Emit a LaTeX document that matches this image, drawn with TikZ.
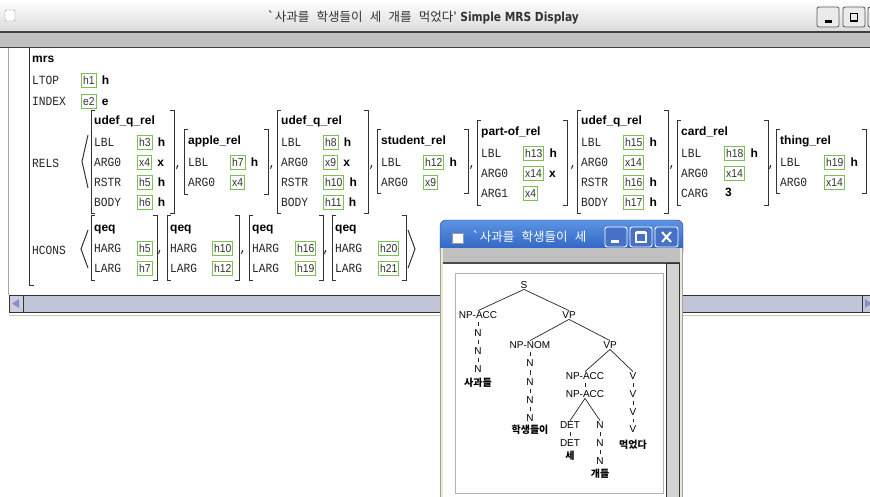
\documentclass[tikz,border=0pt]{standalone}
\usepackage{fontspec}
\setmainfont{Liberation Sans}
\newfontfamily\attrfont[FakeStretch=0.9]{Liberation Mono}
\newfontfamily\valfont[FakeStretch=0.9]{Liberation Sans}
\newfontfamily\korfont{Noto Sans CJK KR}
\newfontfamily\kortitle[WordSpace=2.6]{Noto Sans CJK KR}
\newfontfamily\titlefont[FakeStretch=0.85]{DejaVu Sans}
\usetikzlibrary{positioning}
\definecolor{boxgreen}{HTML}{7CC050}
\definecolor{barblue}{HTML}{C4C4D8}
\definecolor{xpblue}{HTML}{2558BC}
\definecolor{xplight}{HTML}{5C94E2}
\definecolor{xpframe}{HTML}{ECE9D8}
\definecolor{bandgray}{HTML}{C0C0C0}
\newcommand\avmbox[4]{%
  \draw[brk] (#1+4,#3) -- (#1,#3) -- (#1,#4) -- (#1+4,#4);
  \draw[brk] (#2-4,#3) -- (#2,#3) -- (#2,#4) -- (#2-4,#4);}
\tikzset{
  attr/.style={anchor=west, inner sep=0pt, text height=8pt, text depth=0pt,
    font=\attrfont\fontsize{12.5}{12.5}\selectfont, text=black!85},
  tname/.style={anchor=west, inner sep=0pt, text height=9pt, text depth=0pt,
    font=\bfseries\fontsize{12}{12}\selectfont},
  val/.style={anchor=west, draw=boxgreen, line width=1pt, fill=white,
    inner xsep=1.6pt, inner ysep=2.75pt, text height=8.5pt, text depth=0pt,
    font=\valfont\fontsize{11.5}{11.5}\selectfont, text=black!80},
  srt/.style={inner sep=0pt, text height=8.5pt, text depth=0pt,
    font=\bfseries\fontsize{12}{12}\selectfont},
  cma/.style={inner sep=0pt, font=\attrfont\fontsize{12}{12}\selectfont},
  brk/.style={draw=black!80, line width=1pt},
  btn/.style={draw=black!65, fill=black!8, rounded corners=2pt, line width=0.8pt},
  xbtn/.style={draw=white, fill=xpblue!85!white, rounded corners=2.5pt, line width=0.9pt},
  tlab/.style={inner sep=0.6pt, text height=7.2pt, text depth=0pt,
    font=\fontsize{10}{10}\selectfont},
  tword/.style={inner sep=0pt, font=\korfont\bfseries\fontsize{10}{10}\selectfont},
  tedge/.style={black!85, line width=0.7pt},
  uedge/.style={black!85, line width=0.8pt, shorten <=3pt, shorten >=3pt}
}
\begin{document}
\begin{tikzpicture}[x=1pt,y=-1pt]
\useasboundingbox (0,0) rectangle (870,496);
\fill[white] (0,0) rectangle (870,496);
% main window
\shade[top color=white, bottom color=black!14] (0,0) rectangle (870,31);
\draw[black!45, fill=white, rounded corners=1pt] (5,10) rectangle (15,21);
\node[inner sep=0pt, text=black!80, font=\fontsize{12.5}{12.5}\selectfont] (title) at (423,17)
  {{\kortitle\char"60 사과를 학생들이 세 개를 먹었다'} {\titlefont\bfseries Simple MRS Display}};
\draw[btn] (817,7) rectangle (839,27);
\draw[btn] (843,7) rectangle (865,27);
\draw[btn] (868,7) rectangle (892,27);
\fill[black] (825,19.5) rectangle (832,22.5);
\draw[black, line width=1.2pt] (850.5,13.5) rectangle (857.5,21);
\fill[black!75] (0,31) rectangle (870,32.5);
\fill[bandgray] (0,32.5) rectangle (870,46.5);
\fill[black!75] (0,46.5) rectangle (870,48);
\draw[black!35] (8.5,48) -- (8.5,295);
\draw[brk] (29,48) -- (29,285) -- (34,285);
\node[tname] (mrs) at (32,58) {mrs};
\node[attr] (ltop) at (32,80) {LTOP};
\node[val] (h1) at (81,80) {h1};
\node[srt, right=5pt of h1] (h1s) {h};
\node[attr] (index) at (32,101) {INDEX};
\node[val] (e2) at (81,101) {e2};
\node[srt, right=5pt of e2] (e2s) {e};
\node[attr] (rels) at (32,163) {RELS};
\draw[brk] (88,135) -- (82,161.5) -- (88,188);
\avmbox{91}{174}{110}{213}
\node[tname] (r1t) at (94,120) {udef\_q\_rel};
\node[attr] (r1a) at (94,142) {LBL};
\node[val] (r1av) at (137,142) {h3};
\node[srt, right=5pt of r1av] (r1as) {h};
\node[attr] (r1b) at (94,162) {ARG0};
\node[val] (r1bv) at (137,162) {x4};
\node[srt, right=5pt of r1bv] (r1bs) {x};
\node[attr] (r1c) at (94,182) {RSTR};
\node[val] (r1cv) at (137,182) {h5};
\node[srt, right=5pt of r1cv] (r1cs) {h};
\node[attr] (r1d) at (94,202) {BODY};
\node[val] (r1dv) at (137,202) {h6};
\node[srt, right=5pt of r1dv] (r1ds) {h};
\node[cma] (c1) at (178,168) {,};
\avmbox{184}{268}{129}{194}
\node[tname] (r2t) at (188,140) {apple\_rel};
\node[attr] (r2a) at (188,162) {LBL};
\node[val] (r2av) at (230,162) {h7};
\node[srt, right=5pt of r2av] (r2as) {h};
\node[attr] (r2b) at (188,182) {ARG0};
\node[val] (r2bv) at (230,182) {x4};
\node[cma] (c2) at (272,168) {,};
\avmbox{277}{368}{110}{213}
\node[tname] (r3t) at (281,120) {udef\_q\_rel};
\node[attr] (r3a) at (281,142) {LBL};
\node[val] (r3av) at (323,142) {h8};
\node[srt, right=5pt of r3av] (r3as) {h};
\node[attr] (r3b) at (281,162) {ARG0};
\node[val] (r3bv) at (323,162) {x9};
\node[srt, right=5pt of r3bv] (r3bs) {x};
\node[attr] (r3c) at (281,182) {RSTR};
\node[val] (r3cv) at (323,182) {h10};
\node[srt, right=5pt of r3cv] (r3cs) {h};
\node[attr] (r3d) at (281,202) {BODY};
\node[val] (r3dv) at (323,202) {h11};
\node[srt, right=5pt of r3dv] (r3ds) {h};
\node[cma] (c3) at (372,168) {,};
\avmbox{377}{468}{129}{193}
\node[tname] (r4t) at (381,140) {student\_rel};
\node[attr] (r4a) at (381,162) {LBL};
\node[val] (r4av) at (423,162) {h12};
\node[srt, right=5pt of r4av] (r4as) {h};
\node[attr] (r4b) at (381,182) {ARG0};
\node[val] (r4bv) at (423,182) {x9};
\node[cma] (c4) at (472,168) {,};
\avmbox{477}{567}{120}{205}
\node[tname] (r5t) at (481,131) {part-of\_rel};
\node[attr] (r5a) at (481,153) {LBL};
\node[val] (r5av) at (523,153) {h13};
\node[srt, right=5pt of r5av] (r5as) {h};
\node[attr] (r5b) at (481,173) {ARG0};
\node[val] (r5bv) at (523,173) {x14};
\node[srt, right=5pt of r5bv] (r5bs) {x};
\node[attr] (r5c) at (481,193) {ARG1};
\node[val] (r5cv) at (523,193) {x4};
\node[cma] (c5) at (573,168) {,};
\avmbox{577}{668}{110}{213}
\node[tname] (r6t) at (581,120) {udef\_q\_rel};
\node[attr] (r6a) at (581,142) {LBL};
\node[val] (r6av) at (623,142) {h15};
\node[srt, right=5pt of r6av] (r6as) {h};
\node[attr] (r6b) at (581,162) {ARG0};
\node[val] (r6bv) at (623,162) {x14};
\node[attr] (r6c) at (581,182) {RSTR};
\node[val] (r6cv) at (623,182) {h16};
\node[srt, right=5pt of r6cv] (r6cs) {h};
\node[attr] (r6d) at (581,202) {BODY};
\node[val] (r6dv) at (623,202) {h17};
\node[srt, right=5pt of r6dv] (r6ds) {h};
\node[cma] (c6) at (672,168) {,};
\avmbox{677}{768}{120}{205}
\node[tname] (r7t) at (681,131) {card\_rel};
\node[attr] (r7a) at (681,153) {LBL};
\node[val] (r7av) at (724,153) {h18};
\node[srt, right=5pt of r7av] (r7as) {h};
\node[attr] (r7b) at (681,173) {ARG0};
\node[val] (r7bv) at (724,173) {x14};
\node[attr] (r7c) at (681,193) {CARG};
\node[srt, anchor=west] (r7cv) at (725,192) {3};
\node[cma] (c7) at (771,168) {,};
\avmbox{776}{866}{129}{193}
\node[tname] (r8t) at (780,140) {thing\_rel};
\node[attr] (r8a) at (780,162) {LBL};
\node[val] (r8av) at (824,162) {h19};
\node[srt, right=5pt of r8av] (r8as) {h};
\node[attr] (r8b) at (780,182) {ARG0};
\node[val] (r8bv) at (824,182) {x14};
\node[attr] (hcons) at (32,250) {HCONS};
\draw[brk] (88,230) -- (81,249) -- (88,268);
\avmbox{91}{157}{215}{280}
\node[tname] (q1t) at (94,227) {qeq};
\node[attr] (q1a) at (94,248) {HARG};
\node[val] (q1av) at (137,248) {h5};
\node[attr] (q1b) at (94,268) {LARG};
\node[val] (q1bv) at (137,268) {h7};
\node[cma] (c8) at (160,253) {,};
\avmbox{167}{239}{215}{280}
\node[tname] (q2t) at (170,227) {qeq};
\node[attr] (q2a) at (170,248) {HARG};
\node[val] (q2av) at (212,248) {h10};
\node[attr] (q2b) at (170,268) {LARG};
\node[val] (q2bv) at (212,268) {h12};
\node[cma] (c9) at (243,253) {,};
\avmbox{249}{323}{215}{280}
\node[tname] (q3t) at (252,227) {qeq};
\node[attr] (q3a) at (252,248) {HARG};
\node[val] (q3av) at (295,248) {h16};
\node[attr] (q3b) at (252,268) {LARG};
\node[val] (q3bv) at (295,268) {h19};
\node[cma] (c10) at (326,253) {,};
\avmbox{332}{406}{215}{280}
\node[tname] (q4t) at (335,227) {qeq};
\node[attr] (q4a) at (335,248) {HARG};
\node[val] (q4av) at (378,248) {h20};
\node[attr] (q4b) at (335,268) {LARG};
\node[val] (q4bv) at (378,268) {h21};
\draw[brk] (408,230) -- (415,249) -- (408,268);
% scroll bar
\draw[black!80, fill=barblue] (9,295) rectangle (875,312);
\draw[black!80, fill=barblue!85!white] (9,295) rectangle (23,312);
\fill[black!50!blue!45] (12,303.5) -- (19,299) -- (19,308) -- cycle;
\draw[black!80] (862,295) -- (862,312);
\fill[black!50!blue!45] (865,299) -- (871,303.5) -- (865,308) -- cycle;
\draw[xpframe!85!black, line width=1.5pt] (9,315.5) -- (870,315.5);
% tree window
\shade[top color=xplight, bottom color=xpblue, draw=xpblue!70!black, rounded corners=6pt]
  (440,220) rectangle (683,258);
\fill[xpframe] (440.5,248) rectangle (682.5,500);
\draw[xpframe!70!black] (440.5,248) -- (440.5,500) (682.5,248) -- (682.5,500);
\draw[black!40, fill=white] (452,233) rectangle (463,243);
\node[anchor=west, inner sep=0pt, text=white, font=\kortitle\fontsize{12.5}{12.5}\selectfont]
  (ttitle) at (472,237) {\char"60 사과를 학생들이 세};
\draw[xbtn] (605,227) rectangle (627,247);
\draw[xbtn] (630,227) rectangle (652,247);
\draw[xbtn] (655,227) rectangle (678,247);
\fill[white] (611,239.5) rectangle (619,242.5);
\draw[white, line width=1.2pt] (636,232.5) rectangle (646,242);
\draw[white, line width=2.4pt] (636,232.5) -- (646,232.5);
\draw[white, line width=2pt] (662,232) -- (671,242) (662,242) -- (671,232);
\fill[bandgray] (443,248) rectangle (680,262);
\fill[black!70] (443,262) rectangle (680,263.5);
\fill[white] (443,263.5) rectangle (680,500);
\draw[black!30] (455,273) rectangle (663,493);
\draw[black!80, fill=black!17] (666,263.5) rectangle (679,500);
% tree
\node[tlab] (s) at (524,285) {S};
\node[tlab] (npacc) at (478,315) {NP-ACC};
\node[tlab] (vp) at (569,315) {VP};
\node[tlab] (n1a) at (478,333) {N};
\node[tlab] (n1b) at (478,351) {N};
\node[tlab] (n1c) at (478,369) {N};
\node[tword] (w1) at (478,383) {사과들};
\node[tlab] (npnom) at (530,345) {NP-NOM};
\node[tlab] (vp2) at (610,345) {VP};
\node[tlab] (n2a) at (530,363) {N};
\node[tlab] (n2b) at (530,382) {N};
\node[tlab] (n2c) at (530,400) {N};
\node[tlab] (n2d) at (530,418) {N};
\node[tword] (w2) at (530,430) {학생들이};
\node[tlab] (npacc2) at (585,376) {NP-ACC};
\node[tlab] (v1) at (633,376) {V};
\node[tlab] (npacc3) at (585,394) {NP-ACC};
\node[tlab] (det1) at (570,425) {DET};
\node[tlab] (n3a) at (600,425) {N};
\node[tlab] (det2) at (570,443) {DET};
\node[tlab] (n3b) at (600,443) {N};
\node[tword] (w3) at (570,456) {세};
\node[tlab] (n3c) at (600,461) {N};
\node[tword] (w4) at (600,474) {개들};
\node[tlab] (v2) at (633,394) {V};
\node[tlab] (v3) at (633,412) {V};
\node[tlab] (v4) at (633,429) {V};
\node[tword] (w5) at (633,445) {먹었다};
\draw[tedge] (s.south) -- (npacc.north) (s.south) -- (vp.north);
\draw[tedge] (vp.south) -- (npnom.north) (vp.south) -- (vp2.north);
\draw[tedge] (vp2.south) -- (npacc2.north) (vp2.south) -- (v1.north);
\draw[tedge] (npacc3.south) -- (det1.north) (npacc3.south) -- (n3a.north);
\draw[uedge] (npacc.south) -- (n1a.north);
\draw[uedge] (n1a.south) -- (n1b.north);
\draw[uedge] (n1b.south) -- (n1c.north);
\draw[uedge] (npnom.south) -- (n2a.north);
\draw[uedge] (n2a.south) -- (n2b.north);
\draw[uedge] (n2b.south) -- (n2c.north);
\draw[uedge] (n2c.south) -- (n2d.north);
\draw[uedge] (npacc2.south) -- (npacc3.north);
\draw[uedge] (det1.south) -- (det2.north);
\draw[uedge] (n3a.south) -- (n3b.north);
\draw[uedge] (n3b.south) -- (n3c.north);
\draw[uedge] (v1.south) -- (v2.north);
\draw[uedge] (v2.south) -- (v3.north);
\draw[uedge] (v3.south) -- (v4.north);
\end{tikzpicture}
\end{document}
